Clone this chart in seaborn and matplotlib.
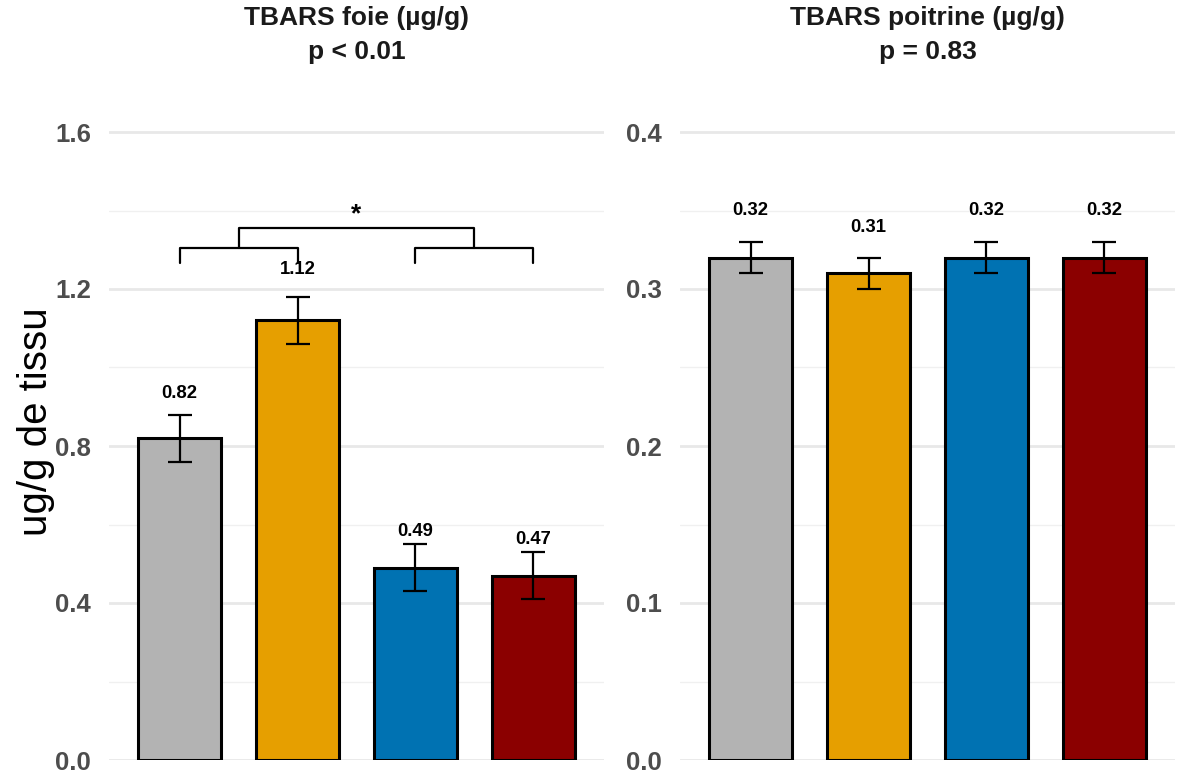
import numpy as np
import pandas as pd
import matplotlib
matplotlib.use("Agg")
import matplotlib.pyplot as plt
import seaborn as sns
from matplotlib.ticker import MultipleLocator

# ---- data ----
groups = ["G1", "G2", "G3", "G4"]
foie_mean = [0.82, 1.12, 0.49, 0.47]
foie_se = [0.06, 0.06, 0.06, 0.06]
poitrine_mean = [0.32, 0.31, 0.32, 0.32]
poitrine_se = [0.01, 0.01, 0.01, 0.01]
colors = ["#B3B3B3", "#E69F00", "#0072B2", "#8B0000"]
titles = ["TBARS foie (µg/g)", "TBARS poitrine (µg/g)"]
pvals = ["p < 0.01", "p = 0.83"]
foie_ticks = [0.0, 0.4, 0.8, 1.2, 1.6]
poitrine_ticks = [0.0, 0.1, 0.2, 0.3, 0.4]
ylabel = "ug/g de tissu"

sns.set_theme(style="white")
plt.rcParams['font.family'] = ['Liberation Sans', 'DejaVu Sans']

W, H = 1182, 778
fig = plt.figure(figsize=(W / 100, H / 100), dpi=100)
ax_h = 659.4
ax1 = fig.add_axes([109 / W, 18 / H, 495 / W, ax_h / H])
ax2 = fig.add_axes([680 / W, 18 / H, 495 / W, ax_h / H])


def panel(ax, means, ses, ticks, title, pval):
    df = pd.DataFrame({"group": groups, "value": means})
    ymax = ticks[-1] * 1.05
    step = ticks[1] - ticks[0]
    ax.yaxis.set_major_locator(MultipleLocator(step))
    ax.yaxis.set_minor_locator(MultipleLocator(step / 2))
    ax.grid(which="major", axis="y", color="#E8E8E8", linewidth=2.0, zorder=0)
    ax.grid(which="minor", axis="y", color="#F0F0F0", linewidth=1.0, zorder=0)
    ax.set_axisbelow(True)
    sns.barplot(data=df, x="group", y="value", hue="group", order=groups,
                hue_order=groups, palette=colors, legend=False, errorbar=None,
                width=0.7, edgecolor="black", linewidth=2.2, saturation=1,
                ax=ax, zorder=2)
    ax.errorbar(np.arange(len(groups)), means, yerr=ses, fmt="none",
                ecolor="black", elinewidth=1.6, capsize=8.6, capthick=1.6,
                zorder=3)
    for i, (m, s) in enumerate(zip(means, ses)):
        ax.text(i, (m + s) * 1.06, f"{m:.2f}", ha="center", va="center",
                fontsize=13.3, fontweight="bold", color="black")
    ax.set_xlim(-0.6, len(groups) - 0.4)
    ax.set_ylim(0, ymax)
    ax.set_yticks(ticks)
    ax.set_yticklabels([f"{t:.1f}" for t in ticks], fontsize=18.5,
                       fontweight="bold", color="#4D4D4D")
    ax.tick_params(axis="y", length=0, pad=13)
    ax.tick_params(axis="x", length=0, labelbottom=False)
    ax.set_xlabel("")
    ax.set_ylabel("")
    for sp in ax.spines.values():
        sp.set_visible(False)
    ax.text(0.5, 1 + 82.6 / ax_h, title, transform=ax.transAxes, ha="center",
            va="center", fontsize=19, fontweight="bold", color="#1A1A1A")
    ax.text(0.5, 1 + 48.6 / ax_h, pval, transform=ax.transAxes, ha="center",
            va="center", fontsize=19, fontweight="bold", color="#1A1A1A")


panel(ax1, foie_mean, foie_se, foie_ticks, titles[0], pvals[0])
panel(ax2, poitrine_mean, poitrine_se, poitrine_ticks, titles[1], pvals[1])

ax1.set_ylabel(ylabel, fontsize=29, color="black", va="center", ha="center")
ax1.yaxis.set_label_coords(-0.148, 0.513)

# significance bracket (left panel)
lw = 1.6
ax1.plot([0, 0, 1, 1], [1.266, 1.304, 1.304, 1.266], color="black", lw=lw)
ax1.plot([2, 2, 3, 3], [1.266, 1.304, 1.304, 1.266], color="black", lw=lw)
ax1.plot([0.5, 0.5, 2.5, 2.5], [1.304, 1.355, 1.355, 1.304], color="black", lw=lw)
ax1.text(1.5, 1.39, "*", ha="center", va="center", fontsize=19,
         fontweight="bold", color="black")

fig.savefig("out.png", dpi=100)
